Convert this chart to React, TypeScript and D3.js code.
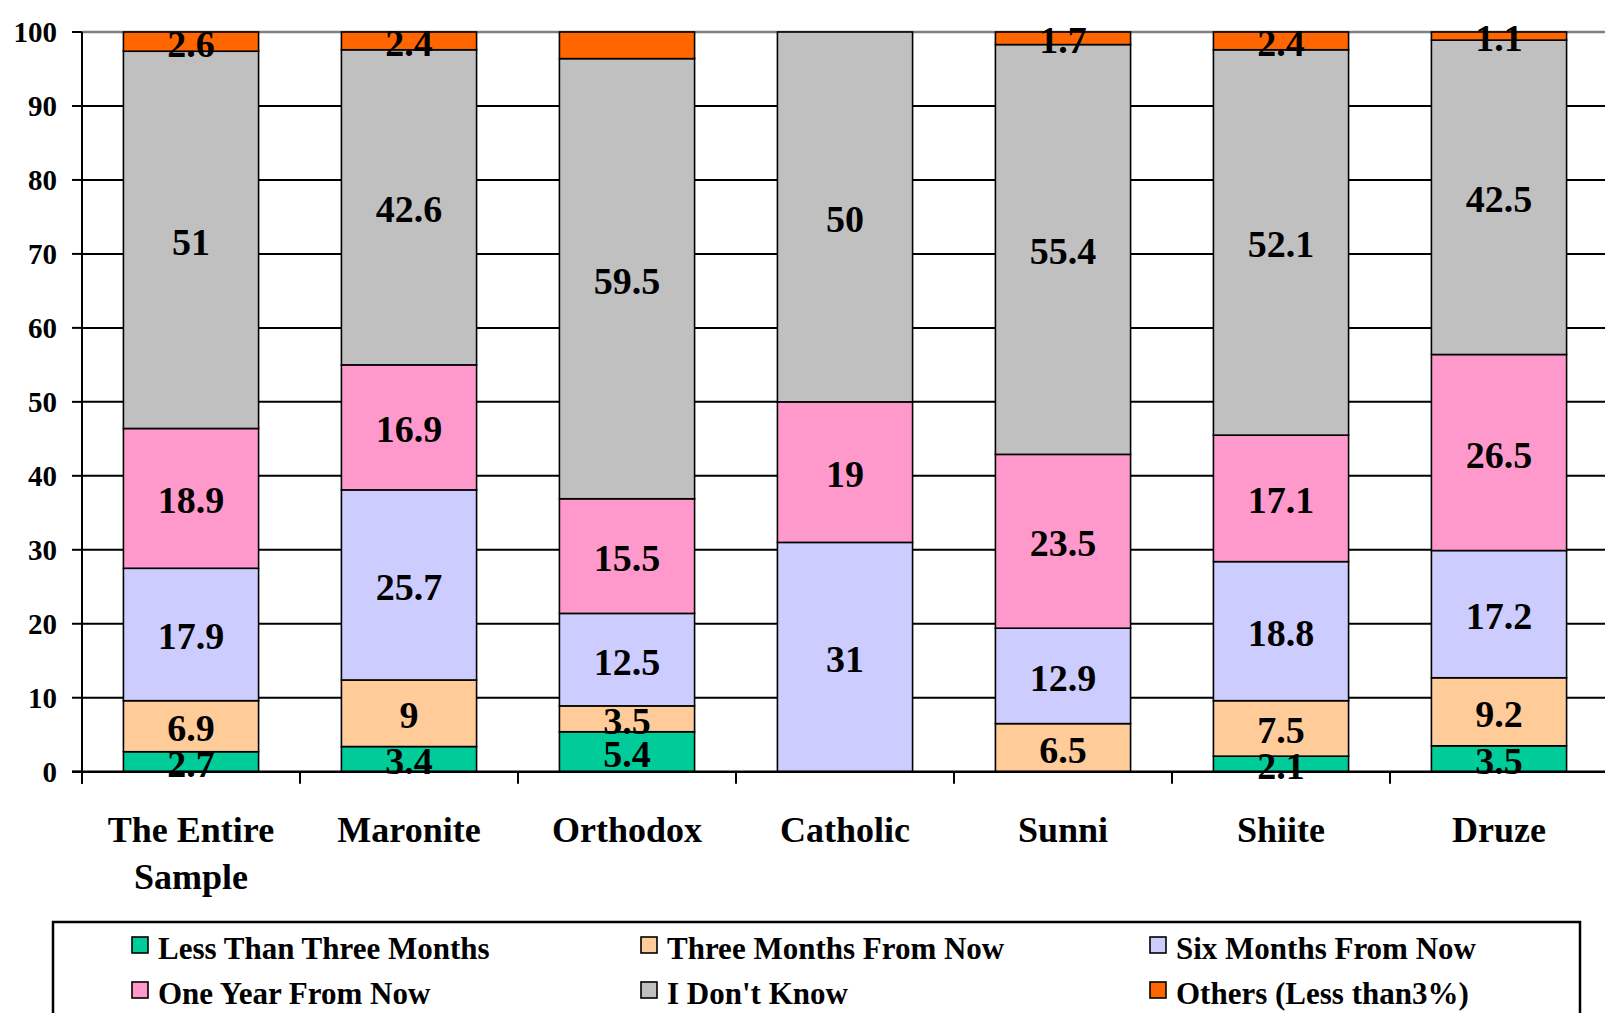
import React from "react";
import * as d3 from "d3";

const categories = ["The Entire Sample", "Maronite", "Orthodox", "Catholic", "Sunni", "Shiite", "Druze"];
const seriesNames = [
  "Less Than Three Months",
  "Three Months From Now",
  "Six Months From Now",
  "One Year From Now",
  "I Don't Know",
  "Others (Less than3%)",
];
const seriesColors = ["#00CC99", "#FFCC99", "#CCCCFF", "#FF99CC", "#C0C0C0", "#FF6600"];

const lessThanThree = [2.7, 3.4, 5.4, 0, 0, 2.1, 3.5];
const threeMonths = [6.9, 9, 3.5, 0, 6.5, 7.5, 9.2];
const sixMonths = [17.9, 25.7, 12.5, 31, 12.9, 18.8, 17.2];
const oneYear = [18.9, 16.9, 15.5, 19, 23.5, 17.1, 26.5];
const dontKnow = [51, 42.6, 59.5, 50, 55.4, 52.1, 42.5];
const others = [2.6, 2.4, 3.6, 0, 1.7, 2.4, 1.1];
// segments whose value is not printed in the original
const hiddenLabels = ["Orthodox|5"];

const yTicks = [0, 10, 20, 30, 40, 50, 60, 70, 80, 90, 100];

const W = 1605;
const H = 1013;
const left = 82;
const top = 32;
const bottom = 771.7;
const right = 1608;
const font = "'Liberation Serif', 'Times New Roman', serif";

export default function App() {
  const seriesValues = [lessThanThree, threeMonths, sixMonths, oneYear, dontKnow, others];
  const table = categories.map((c, i) => {
    const row: any = { cat: c };
    seriesValues.forEach((vals, s) => (row["s" + s] = vals[i]));
    return row;
  });
  const keys = seriesValues.map((_, s) => "s" + s);
  const stacked = d3.stack().keys(keys)(table);

  const x = d3.scaleBand().domain(categories).range([left, right]).paddingInner(0.38).paddingOuter(0.19);
  const y = d3.scaleLinear().domain([0, 100]).range([bottom, top]);
  const step = x.step();

  const catLines: Record<string, string[]> = { "The Entire Sample": ["The Entire", "Sample"] };

  return (
    <svg width={W} height={H} style={{ position: "absolute", left: 0, top: 0, background: "#fff" }}>
      {/* gridlines */}
      {yTicks.filter((t) => t > 0 && t < 100).map((t) => (
        <line key={t} x1={left} x2={W} y1={y(t)} y2={y(t)} stroke="#000" strokeWidth={2} />
      ))}
      <line x1={left} x2={W} y1={y(100)} y2={y(100)} stroke="#808080" strokeWidth={2.5} />

      {/* bars */}
      {stacked.map((layer, s) => (
        <g key={layer.key}>
          {layer.map((d: any, i: number) => {
            const h = y(d[0]) - y(d[1]);
            if (h <= 0) return null;
            return (
              <rect
                key={i}
                x={x(categories[i])}
                y={y(d[1])}
                width={x.bandwidth()}
                height={h}
                fill={seriesColors[s]}
                stroke="#000"
                strokeWidth={1.6}
              />
            );
          })}
        </g>
      ))}

      {/* axes */}
      <line x1={left} x2={left} y1={top} y2={bottom + 12} stroke="#000" strokeWidth={2} />
      <line x1={left - 10} x2={W} y1={bottom} y2={bottom} stroke="#000" strokeWidth={2.5} />
      {yTicks.map((t) => (
        <g key={t}>
          <line x1={left - 10} x2={left} y1={y(t)} y2={y(t)} stroke="#000" strokeWidth={2} />
          <text
            x={57}
            y={y(t)}
            textAnchor="end"
            dominantBaseline="central"
            fontFamily={font}
            fontWeight="bold"
            fontSize={29}
          >
            {t}
          </text>
        </g>
      ))}
      {categories.map((c, i) => (
        <line
          key={c}
          x1={left + step * i}
          x2={left + step * i}
          y1={bottom}
          y2={bottom + 12}
          stroke="#000"
          strokeWidth={2}
        />
      ))}

      {/* data labels */}
      {stacked.map((layer, s) =>
        layer.map((d: any, i: number) => {
          const v = seriesValues[s][i];
          if (!v || hiddenLabels.includes(categories[i] + "|" + s)) return null;
          return (
            <text
              key={layer.key + i}
              x={(x(categories[i]) as number) + x.bandwidth() / 2}
              y={(y(d[0]) + y(d[1])) / 2 + 2}
              textAnchor="middle"
              dominantBaseline="central"
              fontFamily={font}
              fontWeight="bold"
              fontSize={38}
            >
              {v}
            </text>
          );
        })
      )}

      {/* category labels */}
      {categories.map((c) => {
        const lines = catLines[c] || [c];
        return (
          <text
            key={c}
            x={(x(c) as number) + x.bandwidth() / 2}
            y={842}
            textAnchor="middle"
            fontFamily={font}
            fontWeight="bold"
            fontSize={36}
          >
            {lines.map((l, k) => (
              <tspan key={k} x={(x(c) as number) + x.bandwidth() / 2} dy={k === 0 ? 0 : 47}>
                {l}
              </tspan>
            ))}
          </text>
        );
      })}

      {/* legend */}
      <rect x={53} y={922} width={1527} height={120} fill="#fff" stroke="#000" strokeWidth={2.5} />
      {seriesNames.map((n, s) => {
        const col = s % 3;
        const row = Math.floor(s / 3);
        const lx = 132 + col * 509;
        const ly = 959 + row * 45;
        return (
          <g key={n}>
            <rect x={lx} y={ly - 22} width={16} height={16} fill={seriesColors[s]} stroke="#000" strokeWidth={1.6} />
            <text x={lx + 26} y={ly} fontFamily={font} fontWeight="bold" fontSize={31}>
              {n}
            </text>
          </g>
        );
      })}
    </svg>
  );
}
